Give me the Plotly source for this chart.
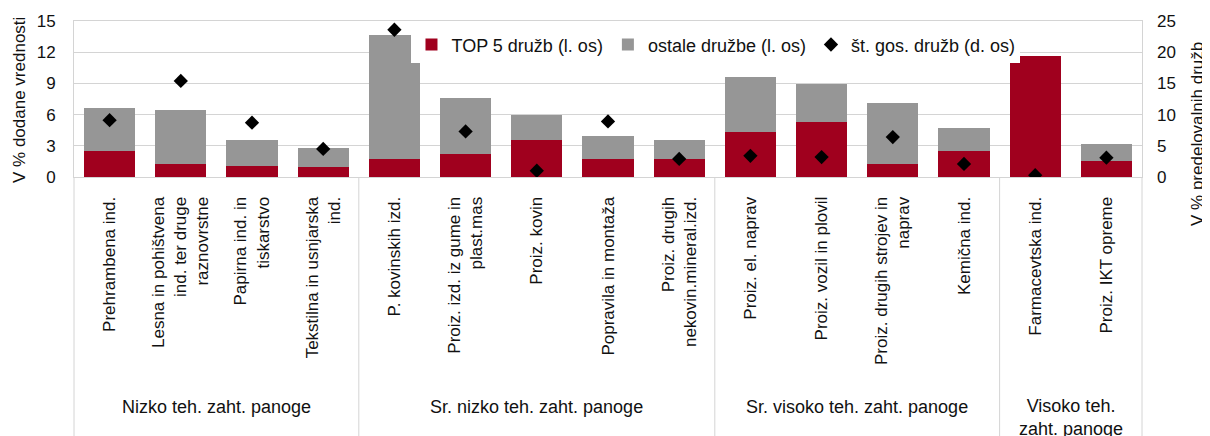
import plotly.graph_objects as go

categories = [
    "Prehrambena ind.",
    "Lesna in pohištvena<br>ind. ter druge<br>raznovrstne",
    "Papirna ind. in<br>tiskarstvo",
    "Tekstilna in usnjarska<br>ind.",
    "P. kovinskih izd.",
    "Proiz. izd. iz gume in<br>plast.mas",
    "Proiz. kovin",
    "Popravila in montaža",
    "Proiz. drugih<br>nekovin.mineral.izd.",
    "Proiz. el. naprav",
    "Proiz. vozil in plovil",
    "Proiz. drugih strojev in<br>naprav",
    "Kemična ind.",
    "Farmacevtska ind.",
    "Proiz. IKT opreme",
]
top5 = [2.5, 1.25, 1.1, 1.0, 1.75, 2.2, 3.6, 1.75, 1.75, 4.35, 5.3, 1.25, 2.5, 11.6, 1.5]
others = [4.1, 5.2, 2.5, 1.8, 11.95, 5.35, 2.4, 2.15, 1.85, 5.25, 3.65, 5.85, 2.25, 0.0, 1.65]
counts = [9.1, 15.4, 8.7, 4.5, 23.6, 7.3, 1.0, 8.9, 2.9, 3.4, 3.2, 6.4, 2.1, 0.3, 3.1]

groups = ["Nizko teh. zaht. panoge", "Sr. nizko teh. zaht. panoge",
          "Sr. visoko teh. zaht. panoge", "Visoko teh.<br>zaht. panoge"]
group_sizes = [4, 5, 4, 2]

left_ticks = [0, 3, 6, 9, 12, 15]
right_ticks = [0, 5, 10, 15, 20, 25]

RED = "#A0001E"
GRAY = "#969696"
LINE = "#D4D4D4"
TXT = "#111111"
FONT = "Liberation Sans, Arial, sans-serif"

# page is rendered with an 8px body margin -> figure is 8px smaller, offsets shifted
W, H = 1202, 428
PL, PT, PW, PH = 66, 13, 1068, 156  # plot area in figure pixels


def py(page_y):
    """page pixel y -> paper y"""
    return (PT + PH - (page_y - 8)) / PH


def px(page_x):
    return ((page_x - 8) - PL) / PW


fig = go.Figure()
fig.add_trace(go.Bar(x=categories, y=top5, name="TOP 5 družb (l. os)",
                     marker=dict(color=RED, line=dict(width=0))))
fig.add_trace(go.Bar(x=categories, y=others, name="ostale družbe (l. os)",
                     marker=dict(color=GRAY, line=dict(width=0))))
fig.add_trace(go.Scatter(x=categories, y=counts, name="št. gos. družb (d. os)",
                         mode="markers", yaxis="y2",
                         marker=dict(symbol="diamond", color="black", size=11)))

n = len(categories)
shapes = []
annotations = []
pos = 0
for g, s in zip(groups, group_sizes):
    center = (pos + s / 2) / n
    yy = py(407) if "<br>" not in g else py(417)
    annotations.append(dict(text=g, xref="paper", yref="paper", x=center, y=yy,
                            xanchor="center", yanchor="middle", showarrow=False,
                            font=dict(size=18, color=TXT, family=FONT)))
    pos += s
for k in [0, 4, 9, 13, 15]:
    shapes.append(dict(type="line", xref="paper", yref="paper", x0=k / n, x1=k / n,
                       y0=0, y1=py(440), line=dict(color=LINE, width=1)))

annotations.append(dict(text="V % dodane vrednosti", xref="paper", yref="paper",
                        x=px(19), y=py(100), textangle=-90,
                        showarrow=False, xanchor="center", yanchor="middle",
                        font=dict(size=17, color=TXT, family=FONT)))
annotations.append(dict(text="V % predelovalnih družb", xref="paper", yref="paper",
                        x=px(1197), y=py(134), textangle=-90,
                        showarrow=False, xanchor="center", yanchor="middle",
                        font=dict(size=17, color=TXT, family=FONT)))

fig.update_layout(
    width=W, height=H,
    margin=dict(l=PL, r=W - PL - PW, t=PT, b=H - PT - PH, autoexpand=False),
    barmode="stack", bargap=0.28,
    plot_bgcolor="white", paper_bgcolor="white",
    font=dict(family=FONT, size=17, color=TXT),
    showlegend=True,
    legend=dict(orientation="h", x=0.316, xanchor="left", y=0.966, yanchor="top",
                bgcolor="white", font=dict(size=18, family=FONT, color=TXT),
                traceorder="normal", itemwidth=30),
    xaxis=dict(type="category", tickangle=-90, showgrid=False, showline=True,
               linecolor=LINE, mirror=True, ticks="", tickfont=dict(size=17),
               ticklabelstandoff=12, range=[-0.5, n - 0.5]),
    yaxis=dict(range=[0, 15], tickvals=left_ticks, showgrid=True, gridcolor=LINE,
               showline=True, linecolor=LINE, mirror=True, ticks="", zeroline=False,
               tickfont=dict(size=17), ticklabelstandoff=14),
    yaxis2=dict(range=[0, 25], tickvals=right_ticks, overlaying="y", side="right",
                showgrid=False, showline=False, ticks="", zeroline=False,
                tickfont=dict(size=17), ticklabelstandoff=14),
    shapes=shapes, annotations=annotations,
)

fig.write_html("out.html")
